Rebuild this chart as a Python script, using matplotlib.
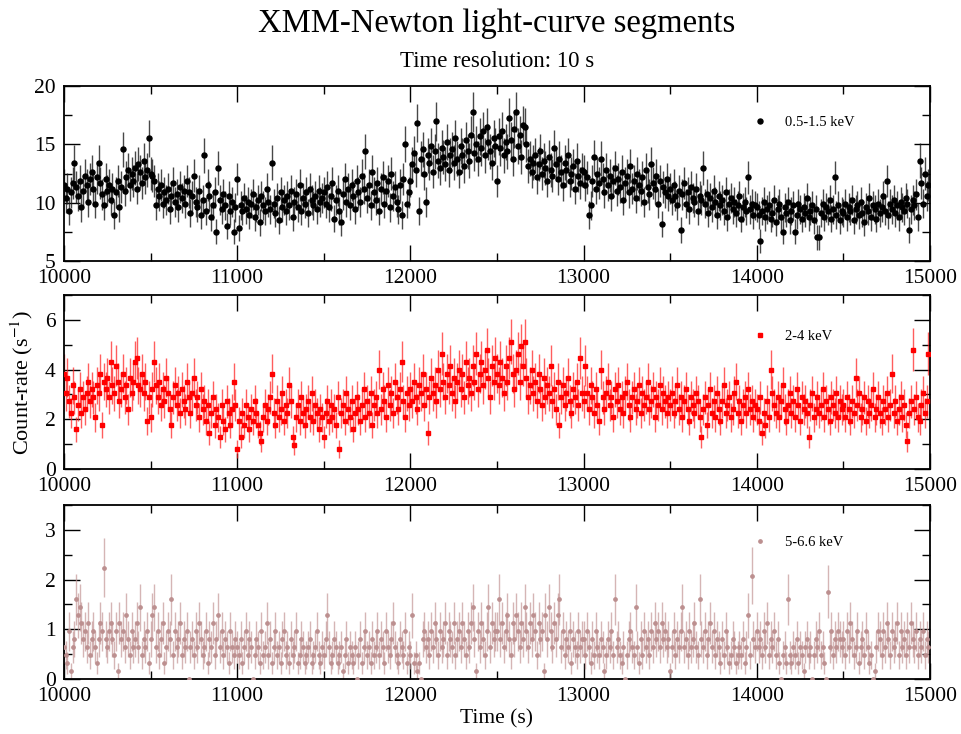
import numpy as np
import matplotlib
matplotlib.use("Agg")
import matplotlib.pyplot as plt
from matplotlib.lines import Line2D
from matplotlib.ticker import MultipleLocator

plt.rcParams['font.family'] = ['Liberation Serif', 'DejaVu Serif']
plt.rcParams['mathtext.fontset'] = 'stix'

# Light-curve binning
T_START = 10000.0
BIN_S = 10.0
RATE_PER_COUNT = 0.16   # count-rate of one recorded count per bin

# Counts per 10 s bin, 0.5-1.5 keV
soft_counts = [
    72, 65, 70, 58, 68, 73, 84, 71, 66, 74, 60, 69, 77, 72, 63, 75, 79, 70, 62, 76, 84, 73, 67, 61, 75,
    69, 72, 64, 70, 56, 68, 74, 60, 71, 91, 69, 76, 80, 72, 78, 74, 81, 70, 83, 79, 73, 85, 76, 80, 97,
    78, 77, 74, 61, 70, 66, 72, 62, 68, 64, 70, 59, 66, 73, 63, 67, 60, 71, 65, 69, 62, 74, 68, 57, 66,
    77, 63, 60, 69, 56, 64, 88, 58, 72, 66, 55, 61, 68, 47, 81, 64, 59, 67, 61, 50, 66, 58, 63, 47, 60,
    75, 49, 61, 58, 65, 59, 63, 56, 62, 67, 55, 60, 64, 52, 66, 61, 58, 70, 63, 59, 84, 62, 57, 65, 53,
    68, 60, 64, 58, 66, 61, 69, 55, 63, 67, 60, 72, 58, 65, 62, 68, 57, 70, 64, 61, 66, 59, 69, 63, 65,
    68, 62, 71, 60, 66, 73, 54, 64, 69, 58, 52, 67, 75, 63, 70, 61, 72, 66, 59, 74, 68, 63, 77, 70, 90,
    65, 72, 61, 79, 68, 64, 73, 58, 70, 76, 62, 69, 74, 60, 78, 66, 71, 63, 59, 72, 56, 75, 94, 62, 68,
    74, 83, 89, 80, 105, 58, 86, 91, 78, 63, 88, 84, 93, 79, 90, 106, 85, 81, 92, 87, 83, 95, 80, 88, 91,
    84, 97, 86, 79, 93, 88, 82, 96, 90, 85, 99, 111, 89, 94, 86, 98, 92, 101, 88, 103, 95, 90, 84, 97, 93,
    74, 98, 92, 101, 88, 95, 90, 108, 96, 86, 102, 111, 93, 99, 87, 104, 103, 94, 82, 86, 79, 84, 88, 76, 83,
    90, 78, 85, 81, 74, 87, 80, 77, 92, 83, 75, 86, 79, 72, 84, 80, 88, 74, 78, 82, 70, 85, 77, 73, 80,
    79, 72, 76, 56, 61, 74, 87, 70, 78, 73, 86, 75, 68, 80, 72, 77, 66, 74, 81, 69, 75, 71, 79, 64, 73,
    77, 68, 82, 70, 74, 65, 78, 72, 69, 76, 63, 80, 71, 67, 83, 73, 70, 77, 62, 74, 51, 71, 68, 75, 66,
    70, 64, 72, 66, 61, 69, 48, 67, 73, 62, 68, 59, 71, 65, 63, 70, 58, 66, 64, 81, 62, 67, 57, 65, 60,
    69, 63, 56, 66, 61, 64, 58, 68, 55, 62, 65, 59, 63, 57, 61, 66, 54, 60, 63, 58, 76, 59, 62, 56, 61,
    60, 56, 42, 58, 63, 55, 59, 61, 54, 57, 64, 52, 59, 62, 55, 47, 60, 57, 63, 53, 58, 61, 47, 56, 62,
    59, 54, 60, 57, 65, 55, 58, 61, 53, 59, 44, 44, 57, 62, 55, 60, 58, 64, 54, 59, 76, 56, 61, 53, 58,
    57, 62, 55, 60, 58, 64, 53, 59, 61, 56, 63, 57, 52, 60, 58, 65, 55, 61, 59, 54, 62, 57, 60, 66, 58,
    74, 56, 62, 59, 64, 57, 61, 55, 63, 60, 58, 65, 62, 48, 59, 64, 61, 67, 55, 85, 73, 62, 78, 66, 72,
]

# Counts per 10 s bin, 2-4 keV
mid_counts = [
    24, 19, 23, 17, 14, 21, 18, 10, 16, 20, 14, 18, 15, 19, 22, 17, 20, 18, 13, 21, 19, 24, 11, 22, 20,
    23, 18, 27, 21, 19, 26, 22, 17, 20, 24, 18, 21, 15, 23, 19, 22, 27, 28, 21, 20, 24, 19, 22, 12, 18,
    13, 20, 27, 21, 18, 22, 16, 20, 17, 23, 19, 15, 11, 18, 21, 16, 19, 14, 20, 17, 15, 22, 18, 14, 19,
    23, 16, 18, 13, 20, 15, 17, 12, 16, 9, 14, 18, 11, 15, 13, 8, 16, 12, 10, 17, 14, 11, 15, 22, 16,
    5, 12, 8, 14, 11, 16, 13, 10, 15, 12, 17, 14, 11, 9, 7, 13, 16, 12, 15, 18, 24, 14, 11, 17, 13,
    15, 19, 12, 16, 14, 21, 17, 8, 6, 13, 16, 12, 18, 14, 11, 15, 17, 13, 19, 12, 16, 14, 10, 15, 13,
    8, 14, 17, 12, 16, 13, 15, 11, 18, 5, 14, 16, 12, 19, 15, 13, 17, 10, 14, 18, 15, 12, 16, 20, 13,
    17, 14, 19, 11, 16, 18, 14, 25, 15, 20, 17, 13, 21, 16, 19, 14, 22, 18, 15, 20, 27, 17, 13, 19, 16,
    20, 17, 22, 18, 15, 21, 19, 24, 16, 20, 9, 18, 23, 19, 21, 17, 25, 20, 29, 22, 18, 24, 21, 26, 19,
    23, 17, 22, 25, 20, 24, 18, 27, 21, 23, 19, 26, 22, 29, 20, 24, 27, 21, 25, 30, 23, 18, 26, 22, 28,
    24, 21, 27, 23, 19, 26, 22, 28, 32, 24, 20, 25, 29, 22, 31, 26, 32, 23, 18, 21, 25, 19, 22, 17, 24,
    20, 16, 23, 18, 21, 19, 26, 17, 20, 15, 22, 11, 18, 21, 16, 19, 23, 17, 14, 20, 18, 22, 16, 28, 19,
    17, 26, 19, 15, 21, 18, 14, 20, 16, 12, 25, 18, 15, 19, 22, 16, 18, 13, 20, 17, 21, 15, 18, 14, 19,
    22, 16, 13, 18, 20, 15, 17, 21, 14, 19, 16, 18, 22, 15, 17, 20, 13, 18, 16, 21, 15, 19, 17, 14, 18,
    16, 19, 14, 17, 21, 15, 18, 13, 17, 20, 15, 12, 18, 16, 14, 19, 17, 13, 8, 15, 18, 11, 16, 20, 14,
    17, 13, 19, 15, 12, 17, 21, 14, 16, 18, 13, 15, 19, 22, 14, 17, 12, 16, 18, 14, 20, 15, 17, 13, 16,
    15, 12, 18, 9, 14, 11, 17, 13, 25, 19, 16, 14, 18, 13, 17, 21, 15, 12, 16, 19, 14, 17, 13, 20, 16,
    12, 18, 15, 17, 14, 8, 16, 19, 13, 15, 18, 14, 16, 20, 13, 17, 15, 12, 18, 16, 14, 19, 13, 17, 15,
    16, 13, 18, 15, 12, 17, 14, 23, 16, 19, 13, 15, 18, 12, 17, 14, 16, 20, 13, 15, 18, 14, 12, 17, 15,
    19, 13, 16, 24, 14, 17, 12, 15, 18, 13, 16, 11, 7, 14, 17, 30, 15, 18, 13, 12, 16, 19, 14, 17, 29,
]

# Counts per 10 s bin, 5-6.6 keV
hard_counts = [
    4, 3, 2, 6, 1, 4, 5, 10, 8, 9, 7, 5, 6, 4, 7, 3, 5, 6, 4, 2, 5, 7, 6, 14, 5,
    4, 6, 7, 5, 3, 6, 1, 7, 5, 6, 4, 8, 5, 3, 6, 4, 5, 7, 4, 9, 3, 5, 4, 6, 2,
    5, 8, 9, 4, 6, 3, 5, 7, 2, 4, 6, 5, 10, 3, 6, 4, 5, 7, 3, 5, 4, 6, 0, 4, 5,
    3, 6, 4, 7, 5, 3, 4, 6, 2, 5, 4, 7, 3, 5, 8, 4, 6, 3, 5, 4, 2, 6, 4, 3, 5,
    4, 3, 5, 2, 4, 6, 3, 5, 4, 0, 3, 5, 4, 2, 6, 3, 4, 7, 3, 5, 2, 4, 6, 3, 4,
    2, 5, 6, 3, 4, 2, 5, 3, 4, 6, 2, 3, 5, 4, 2, 3, 4, 5, 2, 3, 4, 6, 3, 2, 4,
    3, 5, 8, 4, 2, 3, 5, 4, 2, 3, 4, 1, 3, 5, 2, 4, 3, 2, 4, 0, 3, 5, 2, 4, 6,
    3, 4, 2, 5, 3, 4, 6, 3, 5, 4, 2, 6, 4, 3, 5, 7, 4, 3, 2, 5, 4, 3, 6, 2, 4,
    3, 8, 2, 3, 1, 2, 0, 5, 6, 4, 5, 3, 6, 4, 7, 5, 3, 6, 4, 5, 7, 3, 6, 5, 4,
    7, 3, 5, 6, 4, 7, 5, 3, 6, 4, 7, 9, 5, 1, 6, 4, 7, 5, 3, 6, 9, 4, 7, 5, 6,
    6, 10, 5, 7, 4, 6, 8, 5, 3, 7, 5, 8, 6, 4, 7, 5, 9, 6, 4, 7, 5, 8, 6, 3, 7,
    5, 6, 1, 8, 5, 9, 6, 4, 7, 5, 8, 10, 4, 6, 3, 5, 4, 6, 2, 5, 4, 3, 6, 4, 5,
    5, 3, 6, 4, 2, 5, 3, 6, 4, 3, 5, 4, 1, 3, 5, 4, 6, 3, 10, 4, 5, 3, 2, 4, 0,
    3, 5, 6, 4, 3, 9, 4, 2, 5, 3, 6, 4, 5, 3, 6, 4, 7, 5, 6, 4, 7, 5, 6, 4, 5,
    1, 4, 6, 3, 5, 4, 6, 9, 4, 5, 3, 6, 4, 5, 7, 4, 3, 10, 5, 4, 6, 3, 5, 7, 4,
    6, 3, 5, 4, 2, 5, 3, 6, 4, 2, 3, 5, 4, 2, 3, 4, 3, 5, 2, 4, 8, 3, 13, 5, 4,
    6, 4, 5, 3, 6, 4, 7, 3, 5, 4, 6, 3, 5, 2, 0, 3, 4, 2, 10, 3, 2, 4, 3, 5, 2,
    4, 3, 1, 4, 5, 3, 4, 0, 3, 5, 4, 6, 3, 4, 2, 0, 11, 4, 6, 3, 5, 4, 6, 5, 4,
    5, 3, 6, 4, 7, 5, 3, 4, 6, 2, 4, 5, 3, 6, 4, 2, 3, 0, 1, 4, 6, 5, 3, 6, 4,
    7, 5, 3, 6, 4, 5, 7, 3, 6, 4, 5, 3, 6, 4, 7, 5, 4, 6, 3, 5, 4, 6, 3, 5, 4,
]

band_labels = ["0.5-1.5 keV", "2-4 keV", "5-6.6 keV"]
band_counts = [soft_counts, mid_counts, hard_counts]

# Panel styling
band_marker = ["o", "s", "o"]
band_msize = [3.6, 3.2, 2.4]
band_color = ["#000000", "#ff0000", "#bc8f8f"]
band_ecolor = ["#1a1a1a", "#ff1a1a", "#c49696"]
band_ealpha = [0.80, 0.70, 0.70]
y_limits = [(5, 20), (0, 7), (0, 3.5)]
y_major = [5, 2, 1]
y_minor = [2.5, 1, 0.5]
legend_y = [0.793, 0.760, 0.786]

W, H = 962, 734
fig = plt.figure(figsize=(W / 100, H / 100), dpi=100)

left = 64 / W
width = (930 - 64) / W
panel_px = [(86, 261), (295, 469), (505, 679)]

axes = []
for i, (top, bot) in enumerate(panel_px):
    ax = fig.add_axes([left, 1 - bot / H, width, (bot - top) / H])
    axes.append(ax)

    counts = np.asarray(band_counts[i], dtype=float)
    t = T_START + BIN_S * np.arange(counts.size)
    rate = counts * RATE_PER_COUNT
    err = np.sqrt(counts) * RATE_PER_COUNT

    ax.errorbar(t, rate, yerr=err, fmt="none", ecolor=band_ecolor[i],
                elinewidth=1.0, alpha=band_ealpha[i], capsize=0, zorder=2)
    ax.plot(t, rate, linestyle="none", marker=band_marker[i],
            ms=band_msize[i], color=band_color[i], mec=band_color[i], zorder=3)

    ax.set_xlim(10000, 15000)
    ax.set_ylim(*y_limits[i])
    ax.xaxis.set_major_locator(MultipleLocator(1000))
    ax.xaxis.set_minor_locator(MultipleLocator(500))
    ax.yaxis.set_major_locator(MultipleLocator(y_major[i]))
    ax.yaxis.set_minor_locator(MultipleLocator(y_minor[i]))
    ax.tick_params(which="both", direction="in", top=True, right=True,
                   labelsize=15.5, width=1.0, colors="black")
    ax.tick_params(which="major", length=11.5, pad=6)
    ax.tick_params(which="minor", length=5.8)
    for sp in ax.spines.values():
        sp.set_linewidth(1.3)

    handle = Line2D([], [], linestyle="none", marker=band_marker[i],
                    ms=band_msize[i], color=band_color[i], mec=band_color[i])
    ax.legend([handle], [band_labels[i]], loc="center left",
              bbox_to_anchor=(0.795, legend_y[i]), frameon=False,
              fontsize=10.5, handlelength=1.0, handletextpad=1.2,
              borderpad=0, borderaxespad=0)

axes[1].set_ylabel("Count-rate (s$^{-1}$)", fontsize=16)
axes[1].yaxis.set_label_coords(-0.033, 0.5)
axes[2].set_xlabel("Time (s)", fontsize=15.5, labelpad=2)

cx = (left + width / 2)
fig.text(cx, 1 - 31.7 / H, "XMM-Newton light-curve segments",
         ha="center", va="baseline", fontsize=23.5)
fig.text(cx, 1 - 66.7 / H, "Time resolution: 10 s",
         ha="center", va="baseline", fontsize=16.5)

fig.savefig("out.png", dpi=100)
